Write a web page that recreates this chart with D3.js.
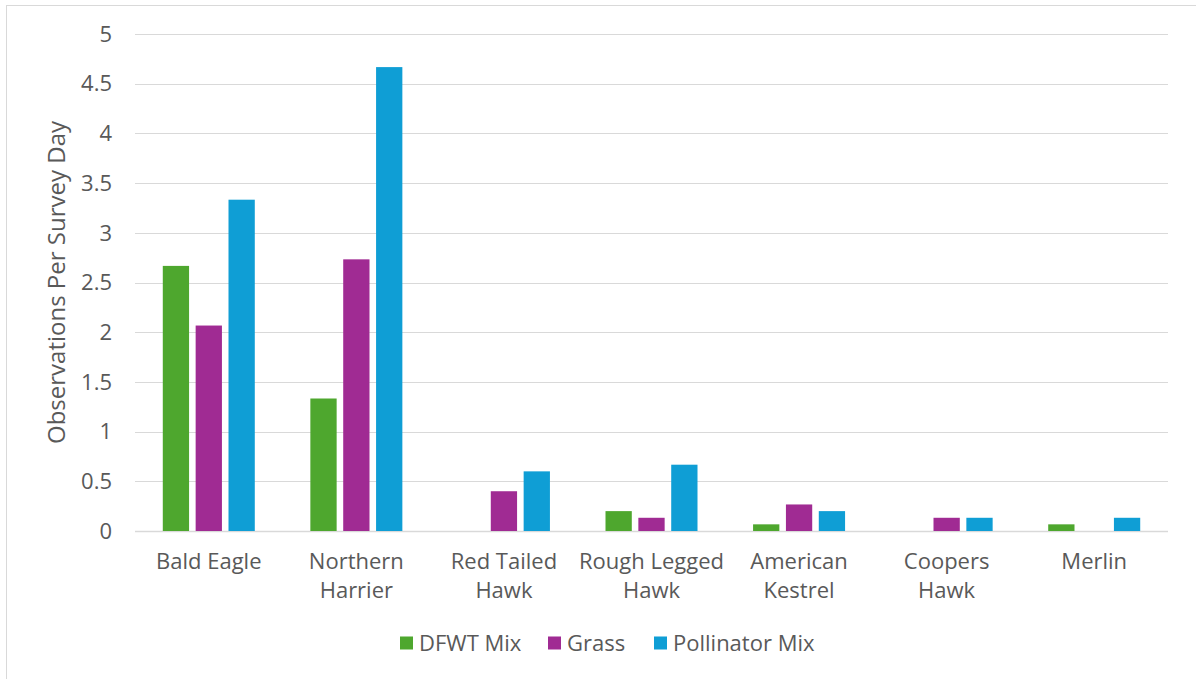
<!DOCTYPE html>
<html>
<head>
<meta charset="utf-8">
<script src="https://cdn.jsdelivr.net/npm/d3@7"></script>
<style>
  html, body { margin: 0; padding: 0; background: #fff; }
  svg { display: block; }
</style>
</head>
<body>
<svg id="chart" width="1196" height="679"></svg>
<script>
// Raptor observations per survey day, by planting mix
const species = [
  ["Bald Eagle"],
  ["Northern", "Harrier"],
  ["Red Tailed", "Hawk"],
  ["Rough Legged", "Hawk"],
  ["American", "Kestrel"],
  ["Coopers", "Hawk"],
  ["Merlin"]
];
const seriesNames = ["DFWT Mix", "Grass", "Pollinator Mix"];
const dfwtMix      = [2.667, 1.333, 0,     0.2,   0.067, 0,     0.067];
const grass        = [2.067, 2.733, 0.4,   0.133, 0.267, 0.133, 0];
const pollinatorMix= [3.333, 4.667, 0.6,   0.667, 0.2,   0.133, 0.133];
const yTicks = [0, 0.5, 1, 1.5, 2, 2.5, 3, 3.5, 4, 4.5, 5];
const colors = ["#4EA72E", "#A02B93", "#0F9ED5"];

const seriesValues = [dfwtMix, grass, pollinatorMix];
const font = "'Open Sans', 'Noto Sans', sans-serif";
const textColor = "#595959";

const svg = d3.select("#chart");

// chart frame
svg.append("rect")
  .attr("x", 6.5).attr("y", 5.5)
  .attr("width", 1196).attr("height", 700)
  .attr("fill", "#fff").attr("stroke", "#d9d9d9").attr("stroke-width", 1);

const plot = { left: 135, right: 1168, top: 34, bottom: 531 };

const x0 = d3.scaleBand()
  .domain(species.map((d, i) => i))
  .range([plot.left, plot.right])
  .paddingInner(0).paddingOuter(0);

const groupWidth = 92;
const x1 = d3.scaleBand()
  .domain(seriesNames)
  .range([0, groupWidth])
  .paddingInner(0.2)
  .paddingOuter(0);

const y = d3.scaleLinear().domain([0, 5]).range([plot.bottom, plot.top]);

// gridlines
svg.append("g")
  .selectAll("line")
  .data(yTicks)
  .join("line")
  .attr("x1", plot.left).attr("x2", plot.right)
  .attr("y1", d => Math.round(y(d)) + 0.5)
  .attr("y2", d => Math.round(y(d)) + 0.5)
  .attr("stroke", "#d9d9d9")
  .attr("stroke-width", d => d === 0 ? 1.5 : 1.2);

// y tick labels
svg.append("g")
  .selectAll("text")
  .data(yTicks)
  .join("text")
  .attr("x", 112)
  .attr("y", d => y(d))
  .attr("dy", "0.35em")
  .attr("text-anchor", "end")
  .attr("font-family", font)
  .attr("font-size", 22)
  .attr("fill", textColor)
  .text(d => d3.format("~g")(d));

// y axis title
svg.append("text")
  .attr("transform", `translate(65, ${(plot.top + plot.bottom) / 2}) rotate(-90)`)
  .attr("text-anchor", "middle")
  .attr("font-family", font)
  .attr("font-size", 24)
  .attr("fill", textColor)
  .text("Observations Per Survey Day");

// bars
const groups = svg.append("g")
  .selectAll("g")
  .data(species.map((d, i) => i))
  .join("g")
  .attr("transform", i => `translate(${x0(i) + (x0.bandwidth() - groupWidth) / 2}, 0)`);

groups.selectAll("rect")
  .data(i => seriesNames.map((s, k) => ({ s, k, v: seriesValues[k][i] })))
  .join("rect")
  .attr("x", d => x1(d.s))
  .attr("y", d => y(d.v))
  .attr("width", x1.bandwidth())
  .attr("height", d => y(0) - y(d.v))
  .attr("fill", d => colors[d.k]);

// category labels
const catLabels = svg.append("g")
  .selectAll("text")
  .data(species)
  .join("text")
  .attr("x", (d, i) => x0(i) + x0.bandwidth() / 2)
  .attr("y", 569)
  .attr("text-anchor", "middle")
  .attr("font-family", font)
  .attr("font-size", 22)
  .attr("fill", textColor);

catLabels.selectAll("tspan")
  .data(d => d)
  .join("tspan")
  .attr("x", function () { return d3.select(this.parentNode).attr("x"); })
  .attr("dy", (d, j) => j === 0 ? 0 : 29)
  .text(d => d);

// legend
const legendX = [400, 548, 654];
const legend = svg.append("g")
  .selectAll("g")
  .data(seriesNames)
  .join("g")
  .attr("transform", (d, i) => `translate(${legendX[i]}, 643)`);

legend.append("rect")
  .attr("x", 0).attr("y", -6.5)
  .attr("width", 13).attr("height", 13)
  .attr("fill", (d, i) => colors[i]);

legend.append("text")
  .attr("x", 19)
  .attr("y", 0)
  .attr("dy", "0.35em")
  .attr("font-family", font)
  .attr("font-size", 22)
  .attr("fill", textColor)
  .text(d => d);
</script>
</body>
</html>
